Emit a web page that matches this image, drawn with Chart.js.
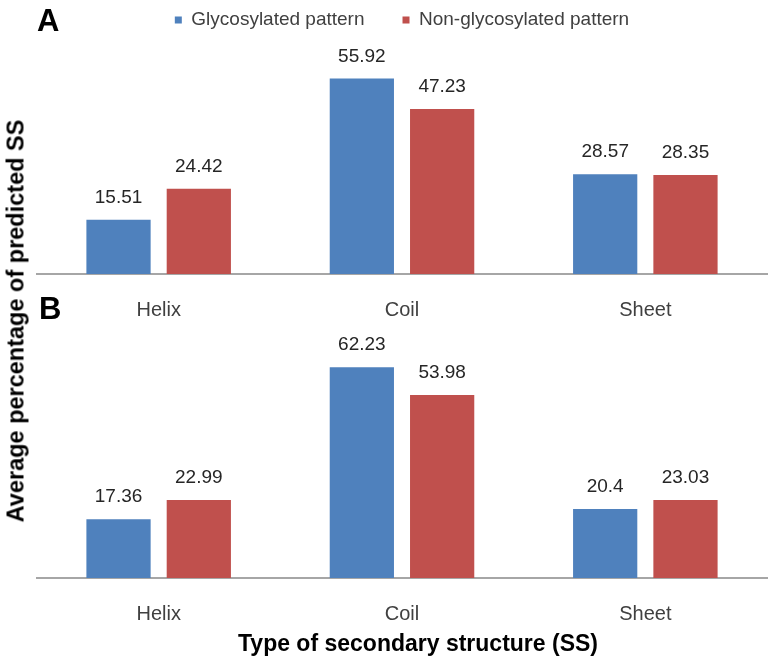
<!DOCTYPE html>
<html>
<head>
<meta charset="utf-8">
<script src="https://cdn.jsdelivr.net/npm/chart.js@4/dist/chart.umd.min.js"></script>
<style>
  body { margin: 0; background: #fff; }
  #page { position: relative; width: 770px; height: 659px; overflow: hidden; font-family: "Liberation Sans", Arial, sans-serif; }
  .panel { position: absolute; left: 0; width: 770px; }
  .tag { position: absolute; font-weight: bold; font-size: 31px; color: #000; line-height: 1; }
  #ytitle { position: absolute; left: 16px; top: 321px; transform: translate(-50%, -50%) rotate(-90deg); white-space: nowrap; font-weight: bold; font-size: 23.5px; color: #000; }
  #xtitle { position: absolute; left: 418px; top: 643px; transform: translate(-50%, -50%); white-space: nowrap; font-weight: bold; font-size: 23px; color: #000; }
</style>
</head>
<body>
<div id="page">
  <div class="panel" style="top:0;height:346px"><canvas id="chartA" width="770" height="346"></canvas></div>
  <div class="panel" style="top:325px;height:334px"><canvas id="chartB" width="770" height="334"></canvas></div>
  <div class="tag" style="left:37px;top:5px">A</div>
  <div class="tag" style="left:39px;top:293px">B</div>
  <div id="ytitle">Average percentage of predicted SS</div>
  <div id="xtitle">Type of secondary structure (SS)</div>
</div>
<script>
const categories = ['Helix', 'Coil', 'Sheet'];
const seriesNames = ['Glycosylated pattern', 'Non-glycosylated pattern'];
const glycoA = [15.51, 55.92, 28.57];
const nonGlycoA = [24.42, 47.23, 28.35];
const glycoB = [17.36, 62.23, 20.4];
const nonGlycoB = [22.99, 53.98, 23.03];

const sans = '"Liberation Sans", Arial, sans-serif';
const blue = '#4F81BD';
const red = '#C0504D';

// values written above each bar
const valueLabels = {
    id: 'valueLabels',
    afterDatasetsDraw(chart) {
        const ctx = chart.ctx;
        ctx.save();
        ctx.font = '19px ' + sans;
        ctx.fillStyle = '#262626';
        ctx.textAlign = 'center';
        ctx.textBaseline = 'middle';
        chart.data.datasets.forEach((ds, i) => {
            chart.getDatasetMeta(i).data.forEach((bar, j) => {
                ctx.fillText(String(ds.data[j]), bar.x, bar.y - 22);
            });
        });
        ctx.restore();
    }
};

function makeChart(id, glyco, nonGlyco, yMax, showLegend, pad) {
    return new Chart(document.getElementById(id), {
        type: 'bar',
        data: {
            labels: categories,
            datasets: [
                { label: seriesNames[0], data: glyco, backgroundColor: blue },
                { label: seriesNames[1], data: nonGlyco, backgroundColor: red }
            ]
        },
        options: {
            responsive: false,
            animation: false,
            barPercentage: 0.8,
            categoryPercentage: 0.66,
            layout: { padding: pad },
            plugins: {
                tooltip: { enabled: false },
                legend: {
                    display: showLegend,
                    position: 'top',
                    labels: {
                        boxWidth: 7,
                        boxHeight: 7,
                        padding: 38,
                        color: '#404040',
                        font: { family: sans, size: 19 }
                    }
                }
            },
            scales: {
                x: {
                    grid: { display: false, drawTicks: false },
                    border: { color: '#A6A6A6', width: 2 },
                    ticks: { padding: 24, color: '#404040', font: { family: sans, size: 20 } }
                },
                y: { display: false, min: 0, max: yMax }
            }
        },
        plugins: [valueLabels]
    });
}

makeChart('chartA', glycoA, nonGlycoA, 67.1, true, { left: 37, right: 3, top: -27.5, bottom: 0 });
makeChart('chartB', glycoB, nonGlycoB, 73.2, false, { left: 37, right: 3, top: 5, bottom: 9 });
</script>
</body>
</html>
